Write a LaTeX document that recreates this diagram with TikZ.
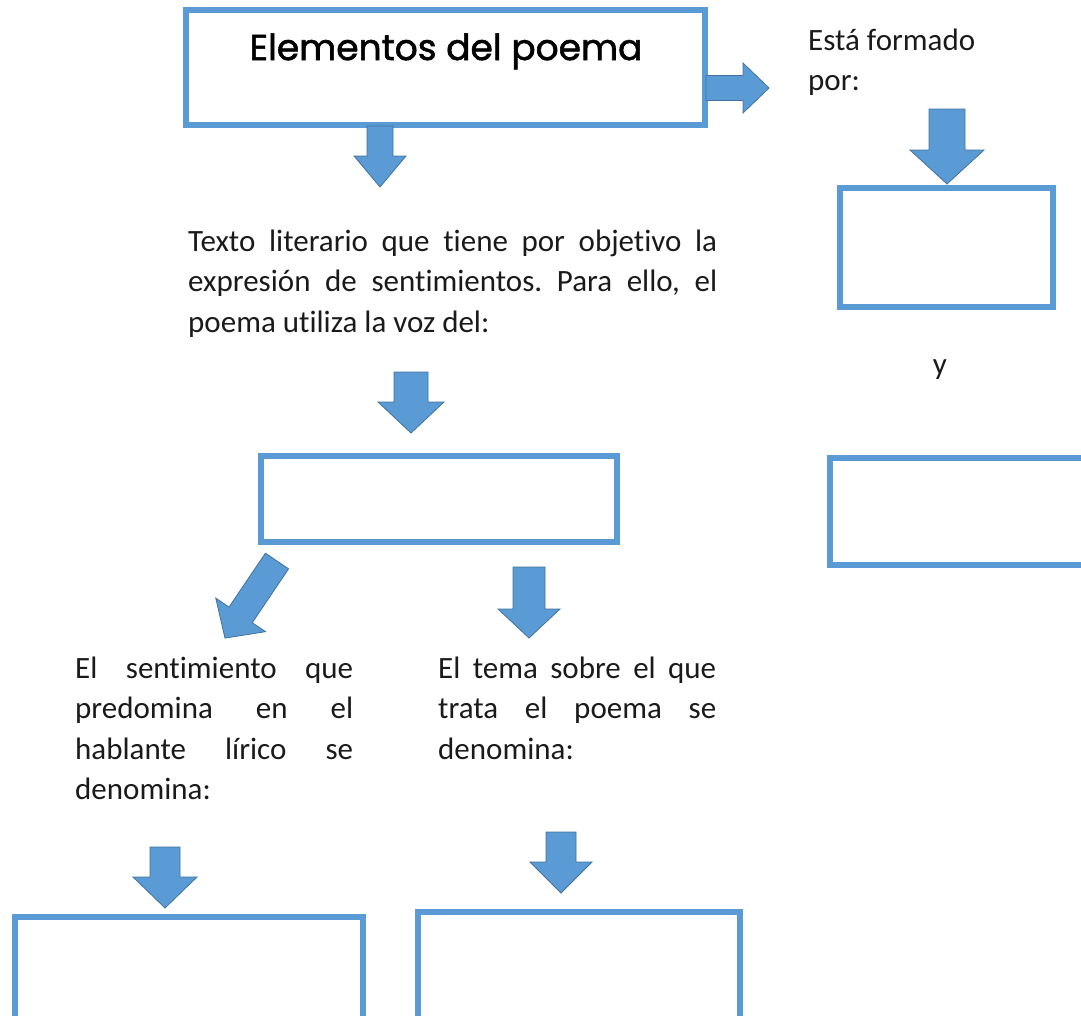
\documentclass[tikz,border=0pt]{standalone}
\usepackage{fontspec}
\setmainfont{Carlito}[Ligatures=NoCommon]
\newfontfamily\titlefont{Poppins}[FakeBold=1.6]
\definecolor{boxblue}{HTML}{5B9BD5}
\definecolor{arrowedge}{HTML}{41719C}
\definecolor{txt}{HTML}{1A1A1A}
\newcommand\jline[2]{\makebox[#1][s]{#2}}
\newcommand\fs{\rule{0pt}{25pt}}
% tail x, tail y, angle, length, head length, shaft half width, head half width
\newcommand\blockarrow[7]{%
  \begin{scope}[shift={(#1,#2)},rotate=#3]
    \filldraw[arrowsty] (0,-#6) -- ({#4-#5},-#6) -- ({#4-#5},-#7) -- (#4,0)
      -- ({#4-#5},#7) -- ({#4-#5},#6) -- (0,#6) -- cycle;
  \end{scope}}
\tikzset{
  arrowsty/.style={fill=boxblue, draw=arrowedge, line width=0.8pt, line join=miter},
  emptybox/.style={draw=boxblue, line width=5.5pt, fill=white, inner sep=0pt, outer sep=0pt},
  bodytext/.style={text=txt, inner sep=0pt, align=left, font=\fontsize{31}{40.5}\selectfont\frenchspacing},
  titletext/.style={text=black, inner sep=0pt, font=\titlefont\fontsize{36}{40}\selectfont},
}
\begin{document}
\begin{tikzpicture}[x=1pt,y=-1pt]
\useasboundingbox (0,0) rectangle (1081,1015);
\clip (0,0) rectangle (1081,1015);
% boxes
\node[emptybox, minimum width=519pt, minimum height=115pt] (titlebox) at (445.5,67.5) {};
\node[titletext, anchor=base] (title) at (446,60) {Elementos del poema};
\node[emptybox, minimum width=213pt, minimum height=119pt] (rbox1) at (946.5,247.5) {};
\node[emptybox, minimum width=260pt, minimum height=107pt] (rbox2) at (960,511.5) {};
\node[emptybox, minimum width=356pt, minimum height=86pt] (midbox) at (439,499) {};
\node[emptybox, minimum width=348pt, minimum height=113pt] (blbox) at (189,973.5) {};
\node[emptybox, minimum width=322pt, minimum height=118pt] (bmbox) at (579,971) {};
% texts
\node[bodytext, anchor=north west] (formado) at (808,25) {\fs Está formado\\por:};
\node[bodytext, anchor=base] (yy) at (940,374) {y};
\node[bodytext, anchor=north west] (texto) at (188,226) {%
  \fs\jline{529pt}{Texto literario que tiene por objetivo la}\\
  \jline{529pt}{expresión de sentimientos. Para ello, el}\\
  poema utiliza la voz del:};
\node[bodytext, anchor=north west] (sentim) at (75,653) {%
  \fs\jline{278pt}{El sentimiento que}\\
  \jline{278pt}{predomina en el}\\
  \jline{278pt}{hablante lírico se}\\
  denomina:};
\node[bodytext, anchor=north west] (tema) at (438,653) {%
  \fs\jline{278pt}{El tema sobre el que}\\
  \jline{278pt}{trata el poema se}\\
  denomina:};
% block arrows
\blockarrow{706}{88}{0}{63}{26}{12.5}{25}
\blockarrow{380}{126}{-90}{61}{31}{13}{26}
\blockarrow{947}{109}{-90}{75}{34}{18}{37}
\blockarrow{411}{372}{-90}{61}{31}{17}{33}
\blockarrow{277}{561}{-124}{93}{28}{14}{30}
\blockarrow{529}{567}{-90}{71}{29}{16}{31}
\blockarrow{165}{847}{-90}{61}{31}{15}{32}
\blockarrow{561}{832}{-90}{61}{31}{15}{31}
\end{tikzpicture}
\end{document}
